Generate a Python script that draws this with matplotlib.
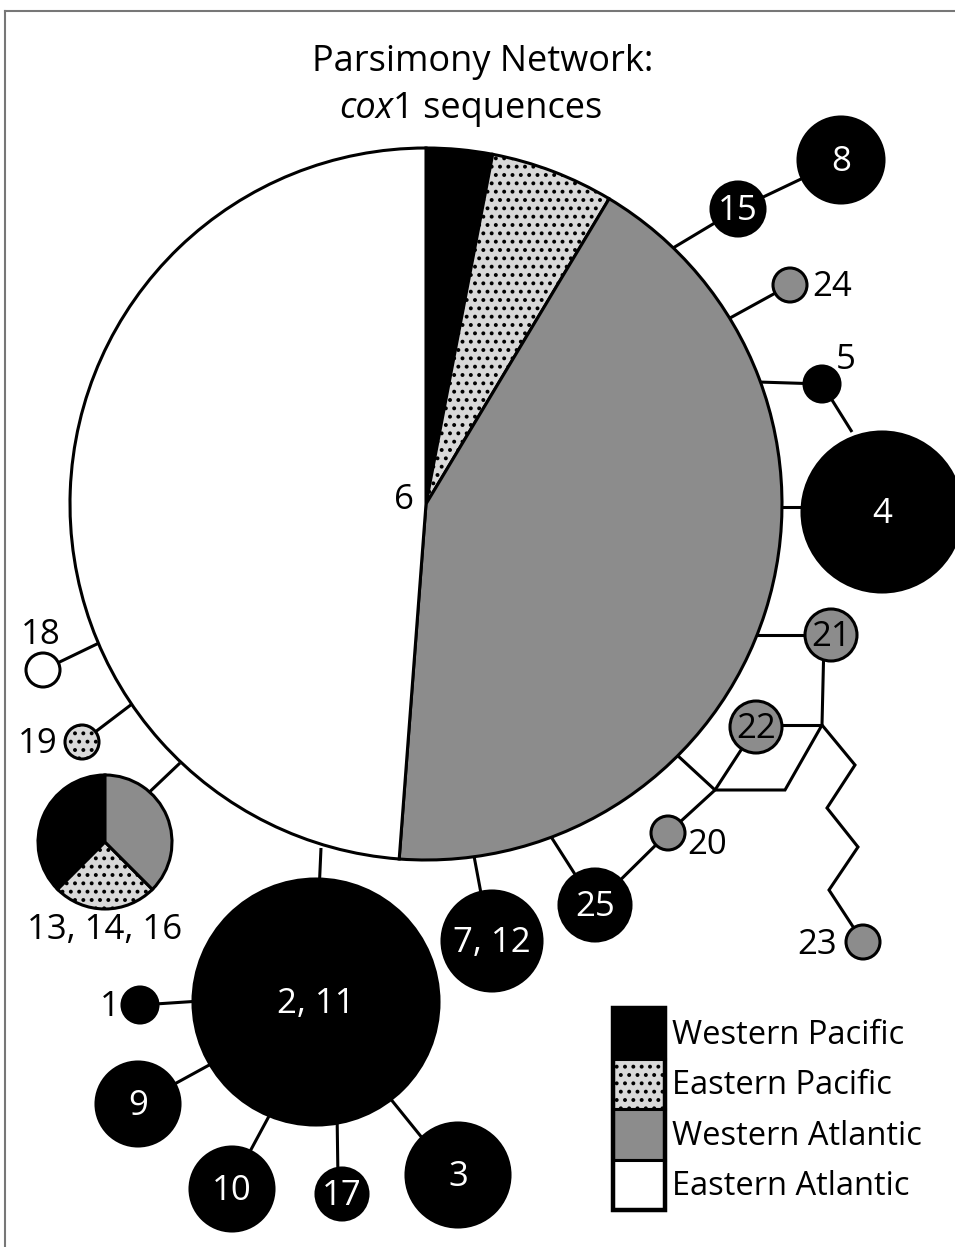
import matplotlib.pyplot as plt
from matplotlib.patches import Circle, Rectangle

plt.rcParams["font.family"] = ["Open Sans", "DejaVu Sans"]
plt.rcParams["hatch.linewidth"] = 1.6

W, H = 955, 1247  # canvas in pixels; the layout below is read in pixels from the top-left

# ---- data ----
regions = ["Western Pacific", "Eastern Pacific", "Western Atlantic", "Eastern Atlantic"]
region_fill = ["black", "#d9d9d9", "#8c8c8c", "white"]
region_hatch = ["", "..", "", ""]

# regional share of the two mixed haplotypes (percent)
hap6_share = [3.0, 5.6, 42.6, 48.8]
hap13_share = [37.5, 25.0, 37.5, 0.0]

# haplotypes found in one region only
hap_labels = ["8", "15", "24", "5", "4", "21", "22", "20", "25", "23",
              "7, 12", "2, 11", "1", "9", "10", "17", "3", "18", "19"]
hap_region = [0, 0, 2, 0, 0, 2, 2, 2, 0, 2,
              0, 0, 0, 0, 0, 0, 0, 3, 1]

# ---- layout ----
hap6_xy, hap6_r = (426, 504), 356
hap13_xy, hap13_r = (105, 842), 67

hap_xy = [(841, 160), (738, 209), (790, 285), (822, 384), (882, 512),
          (831, 635), (756, 727), (668, 833), (595, 905), (863, 942),
          (492, 941), (316, 1002), (140, 1005), (138, 1104), (232, 1189),
          (342, 1194), (458, 1175), (43, 670), (82, 742)]
hap_r = [43, 27, 17, 18, 80, 26, 26, 17, 36, 17,
         50, 123, 18, 42, 42, 26, 52, 17, 17]

# labels placed beside the circle instead of inside it
outside_pos = {"24": (812, 287, "left"), "5": (846, 360, "center"),
               "20": (707, 845, "center"), "23": (817, 945, "center"),
               "1": (110, 1007, "center"), "18": (41, 635, "center"),
               "19": (38, 744, "center")}

edges = [
    [(673, 248), (738, 209), (841, 160)],
    [(730, 318), (790, 285)],
    [(758, 382), (822, 384), (852, 432)],
    [(780, 507), (882, 507)],
    [(755, 635), (831, 635)],
    [(824, 640), (822, 725)],
    [(756, 725), (822, 725)],
    [(822, 725), (785, 790), (715, 790)],
    [(677, 755), (715, 790), (668, 833), (595, 905)],
    [(756, 727), (715, 790)],
    [(822, 725), (855, 765), (827, 808), (858, 847), (829, 890), (863, 942)],
    [(548, 832), (585, 890)],
    [(474, 856), (486, 920)],
    [(321, 848), (316, 960)],
    [(140, 1005), (216, 1000)],
    [(138, 1104), (222, 1058)],
    [(240, 1170), (275, 1105)],
    [(338, 1180), (337, 1110)],
    [(385, 1092), (440, 1160)],
    [(180, 763), (120, 820)],
    [(132, 704), (82, 742)],
    [(99, 643), (43, 670)],
]


def P(x, y):
    return x, H - y


fig = plt.figure(figsize=(W / 100, H / 100), dpi=100)
ax = fig.add_axes([0, 0, 1, 1])

lw = 2.2
for path in edges:
    xs = [p[0] for p in path]
    ys = [H - p[1] for p in path]
    ax.plot(xs, ys, color="black", lw=lw, solid_capstyle="butt",
            solid_joinstyle="miter", zorder=1)

# big mixed haplotype 6
ax.pie(hap6_share, colors=region_fill, hatch=region_hatch, radius=hap6_r,
       center=P(*hap6_xy), startangle=90, counterclock=False,
       wedgeprops=dict(edgecolor="black", linewidth=lw, zorder=2))
ax.text(404, H - 500, "6", fontsize=25, ha="center", va="center", zorder=5)

# mixed haplotype 13, 14, 16
keep = [i for i, v in enumerate(hap13_share) if v > 0]
ax.pie([hap13_share[i] for i in keep], colors=[region_fill[i] for i in keep],
       hatch=[region_hatch[i] for i in keep], radius=hap13_r,
       center=P(*hap13_xy), startangle=90, counterclock=True,
       wedgeprops=dict(edgecolor="black", linewidth=lw, zorder=2))
ax.text(105, H - 930, "13, 14, 16", fontsize=25, ha="center", va="center")

for lab, reg, (x, y), r in zip(hap_labels, hap_region, hap_xy, hap_r):
    ax.add_patch(Circle(P(x, y), r, facecolor=region_fill[reg],
                        hatch=region_hatch[reg], edgecolor="black",
                        linewidth=lw, zorder=3))
    if lab in outside_pos:
        tx, ty, ha = outside_pos[lab]
        ax.text(tx, H - ty, lab, fontsize=25, ha=ha, va="center", zorder=5)
    else:
        col = "white" if reg == 0 else "black"
        ax.text(x, H - y - 2, lab, fontsize=25, color=col, ha="center",
                va="center", zorder=5)

# legend: stacked swatches
box_x, box_w, box_top, box_h = 613, 52, 1008, 50.5
for i, reg in enumerate(regions):
    top = box_top + i * box_h
    ax.add_patch(Rectangle(P(box_x, top + box_h), box_w, box_h,
                           facecolor=region_fill[i], hatch=region_hatch[i],
                           edgecolor="black", linewidth=lw, zorder=3))
    ax.text(672, H - (top + box_h / 2 + 2), reg, fontsize=23.5, ha="left",
            va="center")
ax.add_patch(Rectangle(P(box_x, box_top + 4 * box_h), box_w, 4 * box_h,
                       facecolor="none", edgecolor="black", linewidth=3.2,
                       zorder=4))

# title
ax.text(483, H - 62, "Parsimony Network:", fontsize=26, ha="center",
        va="center")
t1 = ax.text(0, H - 109, "cox", fontsize=26, style="italic", ha="left",
             va="center")
t2 = ax.text(0, H - 109, "1 sequences", fontsize=26, ha="left", va="center")
fig.canvas.draw()
w1 = t1.get_window_extent().width
w2 = t2.get_window_extent().width
x0 = 471 - (w1 + w2) / 2
t1.set_x(x0)
t2.set_x(x0 + w1)

# frame edges visible in the original scan
ax.plot([5, W], [H - 11, H - 11], color="#777777", lw=1.5, zorder=0)
ax.plot([5, 5], [H - 11, 0], color="#777777", lw=1.5, zorder=0)

ax.set_xlim(0, W)
ax.set_ylim(0, H)
ax.set_aspect("equal")
ax.axis("off")

fig.savefig("out.png", dpi=100, facecolor="white")
